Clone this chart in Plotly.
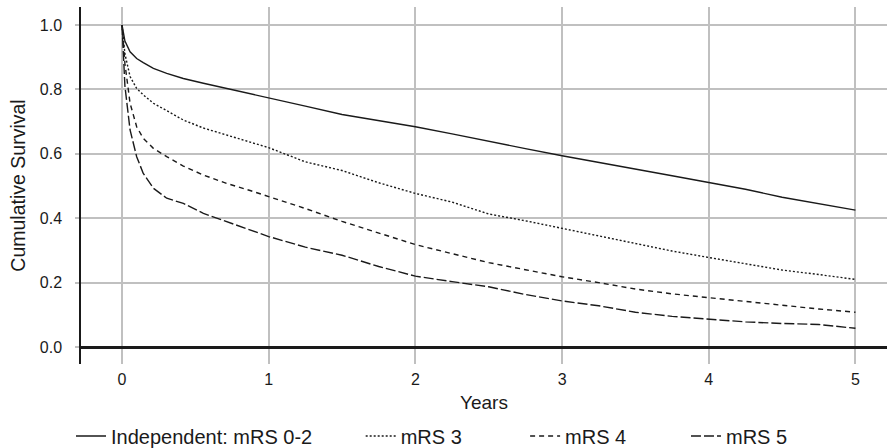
import plotly.graph_objects as go

years = [0, 0.02, 0.055, 0.1, 0.145, 0.214, 0.305, 0.418, 0.555, 0.714, 0.873, 1.0,
         1.25, 1.5, 1.75, 2.0, 2.25, 2.5, 2.75, 3.0, 3.25, 3.5, 3.75, 4.0,
         4.25, 4.5, 4.75, 5.0]

mrs_0_2 = [1.0, 0.95, 0.917, 0.896, 0.883, 0.865, 0.85, 0.834, 0.819, 0.803, 0.788, 0.775,
           0.748, 0.722, 0.703, 0.684, 0.662, 0.638, 0.616, 0.594, 0.574, 0.553, 0.532, 0.511,
           0.49, 0.465, 0.445, 0.425]
mrs_3 = [1.0, 0.91, 0.84, 0.803, 0.783, 0.757, 0.734, 0.705, 0.68, 0.658, 0.638, 0.619,
         0.575, 0.548, 0.51, 0.477, 0.45, 0.413, 0.392, 0.368, 0.345, 0.322, 0.298, 0.278,
         0.258, 0.239, 0.225, 0.21]
mrs_4 = [1.0, 0.88, 0.757, 0.684, 0.648, 0.617, 0.591, 0.562, 0.534, 0.508, 0.486, 0.467,
         0.43, 0.39, 0.355, 0.318, 0.29, 0.262, 0.24, 0.218, 0.2, 0.18, 0.165, 0.153,
         0.14, 0.128, 0.118, 0.108]
mrs_5 = [1.0, 0.81, 0.674, 0.591, 0.539, 0.493, 0.462, 0.446, 0.415, 0.389, 0.363, 0.343,
         0.31, 0.285, 0.25, 0.22, 0.203, 0.187, 0.163, 0.143, 0.128, 0.108, 0.095, 0.086,
         0.078, 0.073, 0.07, 0.058]

series_names = ["Independent: mRS 0-2", "mRS 3", "mRS 4", "mRS 5"]
series_values = [mrs_0_2, mrs_3, mrs_4, mrs_5]
dashes = ["solid", "2px,2px", "5px,4px", "10px,3px"]
legend_ids = ["legend", "legend2", "legend3", "legend4"]
legend_x = [-0.0124, 0.347, 0.551, 0.7506]

FONT = "Liberation Sans, Arial, sans-serif"
INK = "#1a1a1a"

fig = go.Figure()
for name, vals, dash, lid in zip(series_names, series_values, dashes, legend_ids):
    fig.add_trace(go.Scatter(
        x=years, y=vals, mode="lines", name=name,
        line=dict(color=INK, width=1.4, dash=dash),
        legend=lid, showlegend=True,
    ))

legend_common = dict(orientation="h", yanchor="middle", xanchor="left",
                     y=-0.2017, font=dict(family=FONT, size=20, color=INK),
                     bgcolor="rgba(0,0,0,0)", borderwidth=0)

layout_legends = {}
for lid, lx in zip(legend_ids, legend_x):
    layout_legends[lid] = dict(legend_common, x=lx)

fig.update_layout(
    width=887, height=448,
    margin=dict(l=81, r=0, t=7, b=84, autoexpand=False),
    paper_bgcolor="white", plot_bgcolor="white",
    font=dict(family=FONT, size=16, color=INK),
    **layout_legends,
)

fig.update_xaxes(
    range=[-0.2795, 5.215],
    tickvals=[0, 1, 2, 3, 4, 5], ticktext=["0", "1", "2", "3", "4", "5"],
    showgrid=True, gridcolor="#c0c0c0", gridwidth=2,
    zeroline=False, showline=False, ticks="",
    tickfont=dict(family=FONT, size=16, color=INK),
    ticklabelstandoff=4,
    title=dict(text="Years", font=dict(family=FONT, size=19, color=INK), standoff=8),
)
fig.update_yaxes(
    range=[-0.0528, 1.0559],
    tickvals=[0.0, 0.2, 0.4, 0.6, 0.8, 1.0],
    ticktext=["0.0", "0.2", "0.4", "0.6", "0.8", "1.0"],
    showgrid=True, gridcolor="#c0c0c0", gridwidth=2,
    zeroline=True, zerolinecolor=INK, zerolinewidth=2.5,
    showline=True, linecolor=INK, linewidth=1.5,
    ticks="outside", ticklen=4, tickcolor="#c0c0c0", tickwidth=2,
    tickfont=dict(family=FONT, size=16, color=INK),
    ticklabelstandoff=10,
    title=dict(text="Cumulative Survival", font=dict(family=FONT, size=19.5, color=INK), standoff=9),
)

fig.write_html("out.html", config={"displayModeBar": False},
               post_script="document.body.style.margin='0';document.body.style.overflow='hidden';")
